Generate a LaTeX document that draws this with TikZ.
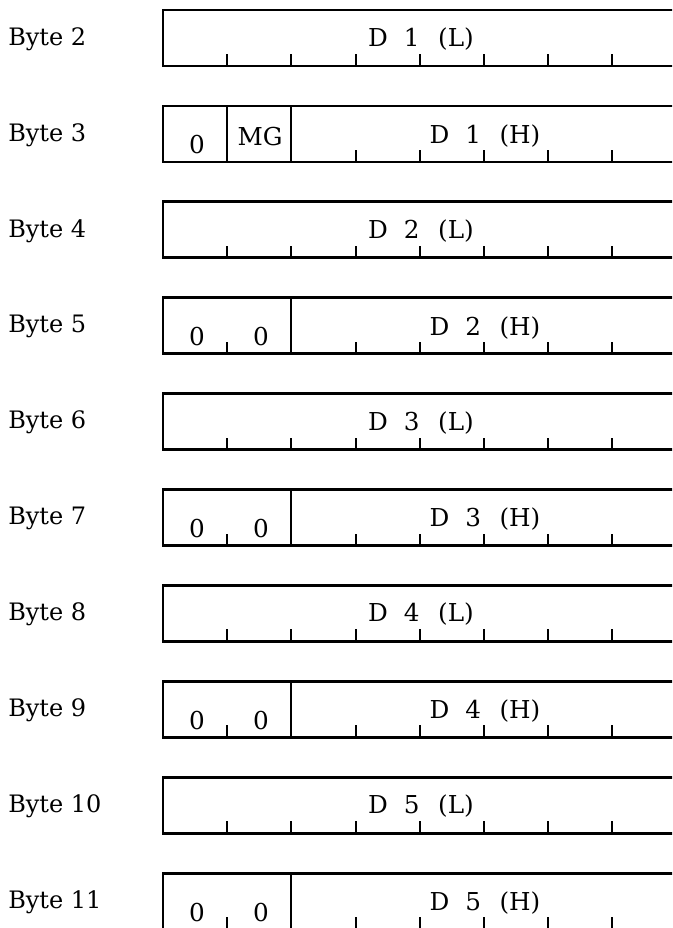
\documentclass[tikz,border=0pt]{standalone}
\usepackage{fontspec}
\setmainfont{DejaVu Serif}
\usetikzlibrary{positioning}
\tikzset{
  regline/.style={line width=2.1pt,line cap=round},
  fieldsep/.style={line width=1.4pt},
  bittick/.style={line width=1.5pt},
  bytelbl/.style={anchor=west,inner sep=0pt,font=\fontsize{18}{20}\selectfont},
  fld/.style={inner sep=0pt,font=\fontsize{18.5}{20}\selectfont}
}
\newcommand{\fsp}{\hspace{0.65em}}
\newcommand{\fspb}{\hspace{0.75em}}

\begin{document}
\begin{tikzpicture}[x=0.75pt,y=-0.75pt]
\useasboundingbox (0,0) rectangle (672,928);
\clip (0,0) rectangle (672,928);
% kind: 0 = plain low byte, 1 = 0/MG high byte, 2 = 0,0 high byte
\foreach \n/\kind/\dn/\hl [count=\i from 0] in
  {2/0/1/L,3/1/1/H,4/0/2/L,5/2/2/H,6/0/3/L,7/2/3/H,8/0/4/L,9/2/4/H,10/0/5/L,11/2/5/H}{
  \pgfmathsetmacro{\ytop}{10+95.9*\i}
  \pgfmathsetmacro{\ybot}{\ytop+56}
  \node[bytelbl] (b\n) at (8,\ytop+29) {Byte \n};
  \draw[regline] (690,\ytop) -- (163,\ytop) -- (163,\ybot) -- (690,\ybot);
  \ifnum\kind=0
    \foreach \k in {1,...,7}
      \draw[bittick] (163+64.2*\k,\ybot) -- ++(0,-12);
    \node[fld] (d\n) at (421,\ytop+29) {D\fsp\dn\fspb(\hl)};
  \else
    \foreach \k in {3,...,7}
      \draw[bittick] (163+64.2*\k,\ybot) -- ++(0,-12);
    \draw[fieldsep] (291.4,\ytop) -- (291.4,\ybot);
    \node[fld] (d\n) at (485,\ytop+30) {D\fsp\dn\fspb(\hl)};
    \node[fld] (z\n) at (197,\ytop+39) {0};
    \ifnum\kind=1
      \draw[fieldsep] (227.2,\ytop) -- (227.2,\ybot);
      \node[fld] (mg\n) at (260,\ytop+31) {MG};
    \else
      \draw[bittick] (227.2,\ybot) -- ++(0,-12);
      \node[fld] (zz\n) at (261,\ytop+39) {0};
    \fi
  \fi
}
\end{tikzpicture}
\end{document}
